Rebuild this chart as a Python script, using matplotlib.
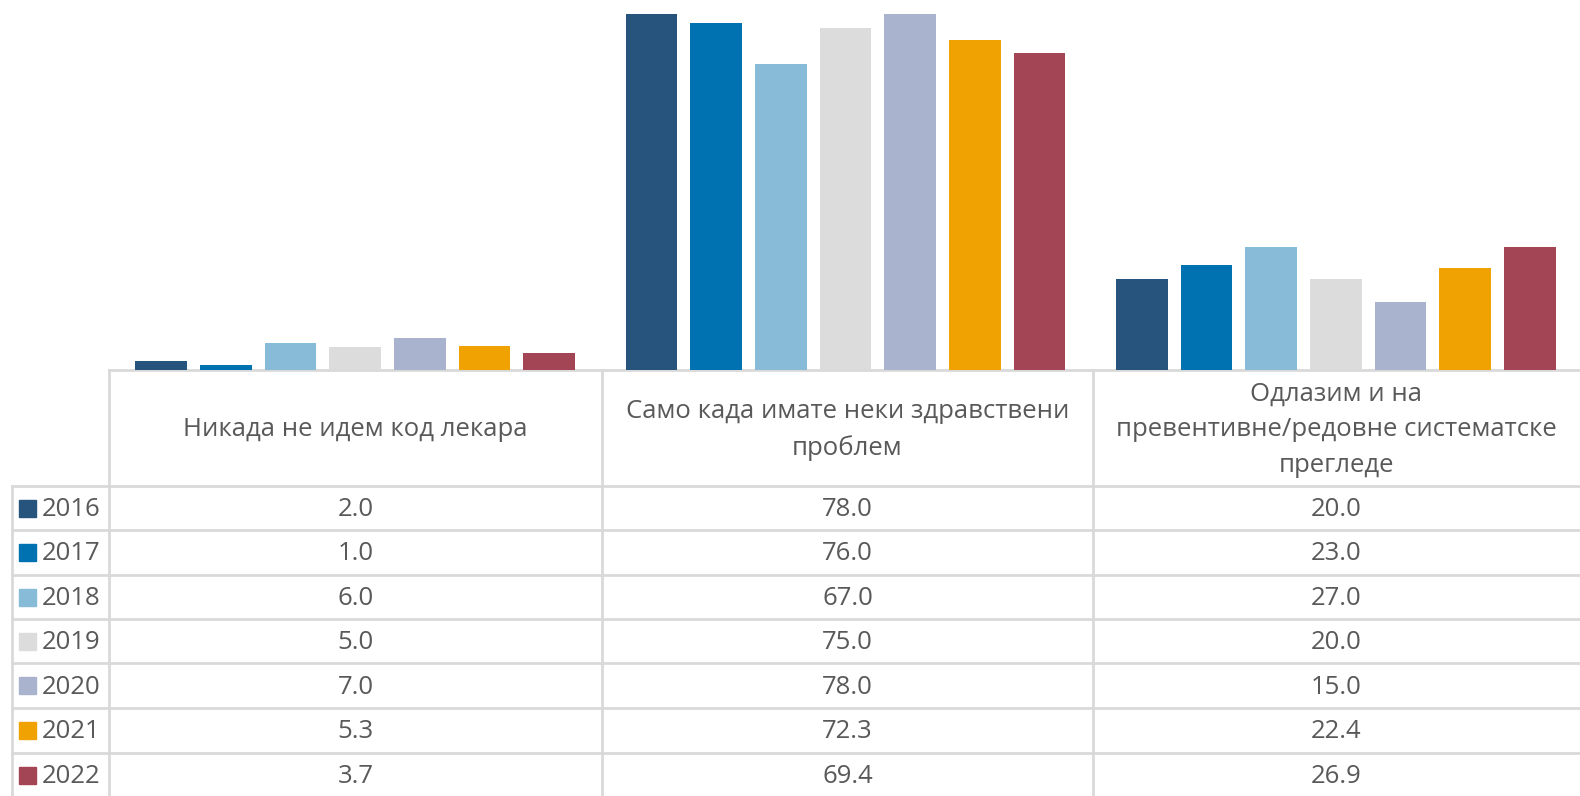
import matplotlib.pyplot as plt
from matplotlib.patches import Rectangle
import numpy as np

plt.rcParams['font.family'] = ['Open Sans', 'DejaVu Sans']

# Подаци
categories = ["Никада не идем код лекара",
              "Само када имате неки здравствени\nпроблем",
              "Одлазим и на\nпревентивне/редовне систематске\nпрегледе"]
years = ["2016", "2017", "2018", "2019", "2020", "2021", "2022"]
v2016 = [2.0, 78.0, 20.0]
v2017 = [1.0, 76.0, 23.0]
v2018 = [6.0, 67.0, 27.0]
v2019 = [5.0, 75.0, 20.0]
v2020 = [7.0, 78.0, 15.0]
v2021 = [5.3, 72.3, 22.4]
v2022 = [3.7, 69.4, 26.9]
series = [v2016, v2017, v2018, v2019, v2020, v2021, v2022]
colors = ["#26547C", "#0072B2", "#87BBD8", "#DCDCDC", "#A9B3CE", "#F0A202", "#A44555"]

W, H = 1580, 796
fig = plt.figure(figsize=(W / 100, H / 100), dpi=100)

# Табела (пиксел координате)
col_x = [12, 109, 602, 1093, 1580]
row_y = [370, 486, 530, 575, 619, 663, 708, 753, 797]
grid_c = "#D9D9D9"
txt_c = "#595959"
fs = 18.5

tax = fig.add_axes([0, 0, 1, 1])
tax.set_xlim(0, W)
tax.set_ylim(H, 0)
tax.axis("off")

# хоризонталне линије
tax.plot([col_x[1], W], [row_y[0], row_y[0]], color=grid_c, lw=2)
for y in row_y[1:-1]:
    tax.plot([col_x[0], W], [y, y], color=grid_c, lw=2)
# вертикалне линије
tax.plot([col_x[0], col_x[0]], [row_y[1], H], color=grid_c, lw=2)
for x in col_x[1:4]:
    tax.plot([x, x], [row_y[0], H], color=grid_c, lw=2)

# заглавље
for j, cat in enumerate(categories):
    cx = (col_x[j + 1] + col_x[j + 2]) / 2
    tax.text(cx, (row_y[0] + row_y[1]) / 2 + 2, cat, ha="center", va="center",
             fontsize=fs, color=txt_c, linespacing=1.56)

# редови
for i, (yr, vals) in enumerate(zip(years, series)):
    cy = (row_y[i + 1] + row_y[i + 2]) / 2
    tax.add_patch(Rectangle((19, cy - 8.5), 17, 17, color=colors[i]))
    tax.text(42, cy + 1.5, yr, ha="left", va="center", fontsize=fs, color=txt_c)
    for j, v in enumerate(vals):
        cx = (col_x[j + 1] + col_x[j + 2]) / 2
        tax.text(cx, cy + 1.5, f"{v:.1f}", ha="center", va="center",
                 fontsize=fs, color=txt_c)

# Стубићи
ax = fig.add_axes([col_x[1] / W, 1 - row_y[0] / H, (W - col_x[1]) / W, (row_y[0] - 5) / H])
x = np.arange(len(categories))
slot = 65 / (col_x[2] - col_x[1])
for i, vals in enumerate(series):
    ax.bar(x + (i - 3) * slot + 0.002, vals, width=slot * 0.8, color=colors[i])
ax.set_xlim(-0.5, 2.5)
ax.set_ylim(0, 80)
ax.axis("off")

fig.savefig("out.png", dpi=100)
